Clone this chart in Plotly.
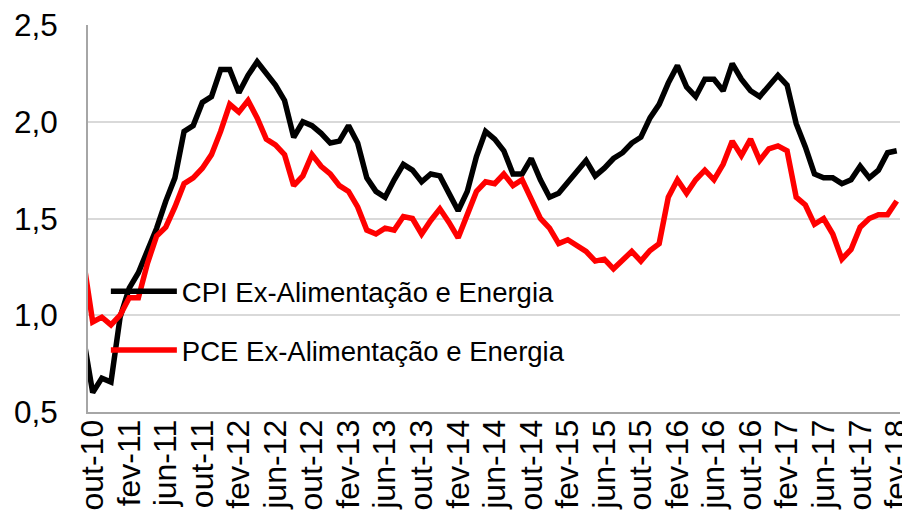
import plotly.graph_objects as go

# Month categories (Sep-2010 partially visible at the left edge, through Feb-2018)
month_abbr = ["jan", "fev", "mar", "abr", "mai", "jun", "jul", "ago", "set", "out", "nov", "dez"]
months = []
y, m = 2010, 9
while (y, m) <= (2018, 2):
    months.append(f"{month_abbr[m-1]}-{str(y)[2:]}")
    m += 1
    if m > 12:
        m = 1
        y += 1

tick_labels = ["out-10", "fev-11", "jun-11", "out-11", "fev-12", "jun-12", "out-12",
               "fev-13", "jun-13", "out-13", "fev-14", "jun-14", "out-14", "fev-15",
               "jun-15", "out-15", "fev-16", "jun-16", "out-16", "fev-17", "jun-17",
               "out-17", "fev-18"]

cpi_core = [0.88,
            0.60, 0.675, 0.655, 0.99, 1.14, 1.22, 1.33, 1.45, 1.59, 1.71,
            1.95, 1.98, 2.10, 2.13, 2.27, 2.27, 2.15, 2.24, 2.31, 2.25,
            2.19, 2.11, 1.92, 2.00, 1.98, 1.94, 1.89, 1.90, 1.98, 1.89,
            1.71, 1.64, 1.61, 1.70, 1.78, 1.75, 1.69, 1.73, 1.72, 1.63,
            1.54, 1.64, 1.82, 1.95, 1.91, 1.85, 1.73, 1.73, 1.81, 1.70,
            1.61, 1.63, 1.69, 1.75, 1.80, 1.72, 1.76, 1.81, 1.84, 1.89,
            1.92, 2.02, 2.09, 2.20, 2.29, 2.18, 2.13, 2.22, 2.22, 2.16,
            2.30, 2.22, 2.16, 2.13, 2.19, 2.24, 2.19, 1.99, 1.87, 1.73,
            1.71, 1.71, 1.68, 1.70, 1.77, 1.71, 1.75, 1.84, 1.85]

pce_core = [1.28,
            0.965, 0.99, 0.95, 1.00, 1.09, 1.09, 1.27, 1.41, 1.455, 1.56,
            1.68, 1.71, 1.76, 1.83, 1.95, 2.09, 2.05, 2.11, 2.02, 1.91,
            1.88, 1.83, 1.67, 1.72, 1.83, 1.77, 1.73, 1.67, 1.64, 1.56,
            1.44, 1.42, 1.45, 1.44, 1.51, 1.50, 1.42, 1.49, 1.55, 1.48,
            1.40, 1.52, 1.64, 1.69, 1.68, 1.73, 1.67, 1.70, 1.60, 1.50,
            1.45, 1.37, 1.39, 1.36, 1.33, 1.28, 1.29, 1.24, 1.29, 1.33,
            1.28, 1.335, 1.37, 1.61, 1.70, 1.63, 1.70, 1.75, 1.70, 1.78,
            1.90, 1.825, 1.91, 1.80, 1.86, 1.875, 1.85, 1.61, 1.57, 1.47,
            1.50, 1.42, 1.29, 1.34, 1.455, 1.50, 1.52, 1.52, 1.59]

font_family = "Arial, 'Liberation Sans', sans-serif"

fig = go.Figure()
fig.add_trace(go.Scatter(x=months, y=cpi_core, mode="lines",
                         name="CPI Ex-Alimentação e Energia", legendgroup="a",
                         line=dict(color="#000000", width=5.5)))
fig.add_trace(go.Scatter(x=months, y=pce_core, mode="lines",
                         name="PCE Ex-Alimentação e Energia", legendgroup="b",
                         line=dict(color="#ff0000", width=5.5)))

fig.update_layout(
    width=902, height=510,
    margin=dict(l=80, r=10, t=17, b=106),
    paper_bgcolor="white", plot_bgcolor="white",
    separators=",.",
    font=dict(family=font_family, color="#000000"),
    showlegend=True,
    legend=dict(x=0.022, y=0.375, xanchor="left", yanchor="top",
                bgcolor="rgba(0,0,0,0)", font=dict(size=27.5, color="#000000"),
                tracegroupgap=20, itemwidth=66),
)
fig.update_xaxes(type="category", categoryorder="array", categoryarray=months,
                 range=[0.486, 89.36], tickmode="array", tickvals=tick_labels,
                 ticktext=tick_labels, tickangle=-90, tickfont=dict(size=32),
                 showgrid=False, showline=True, linecolor="#a6a6a6", linewidth=2,
                 ticks="", ticklabelstandoff=-7, ticklabeloverflow="allow",
                 zeroline=False, automargin=False)
fig.update_yaxes(range=[0.5, 2.5], dtick=0.5, tick0=0.5, tickformat=".1f",
                 tickfont=dict(size=31.5), showgrid=True, gridcolor="#d9d9d9",
                 gridwidth=2, showline=True, linecolor="#a6a6a6", linewidth=2,
                 ticks="", ticklabelstandoff=22, ticklabeloverflow="allow",
                 zeroline=False, automargin=False)

fig.write_html("out.html")
